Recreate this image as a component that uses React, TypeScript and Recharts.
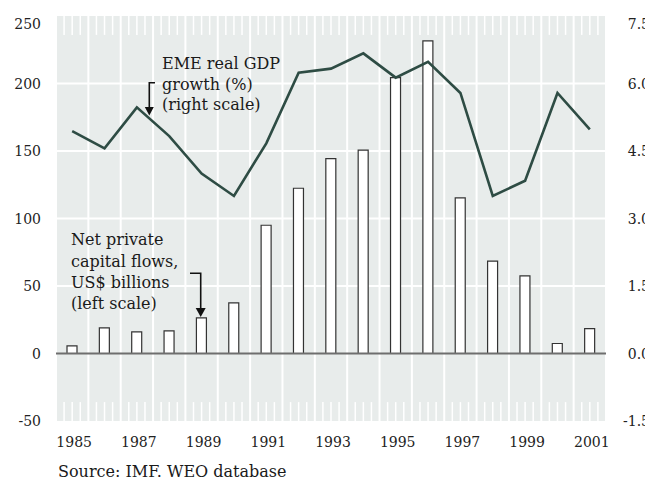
import React from 'react';
import {
  ComposedChart,
  Bar,
  Line,
  XAxis,
  YAxis,
  CartesianGrid,
  ReferenceLine,
} from 'recharts';

const years = [1985, 1986, 1987, 1988, 1989, 1990, 1991, 1992, 1993, 1994, 1995, 1996, 1997, 1998, 1999, 2000, 2001];
const flows = [5.6, 19, 16, 16.7, 26.4, 37.5, 95, 122.4, 144.4, 150.6, 204.4, 231.6, 115.3, 68.4, 57.5, 7.4, 18.5];
const gdp = [4.94, 4.56, 5.47, 4.83, 4.0, 3.5, 4.67, 6.24, 6.33, 6.67, 6.13, 6.48, 5.79, 3.5, 3.84, 5.79, 4.98];
const yearTicks = [1985, 1987, 1989, 1991, 1993, 1995, 1997, 1999, 2001];
const leftTicks = [-50, 0, 50, 100, 150, 200, 250];
const rightTicks = [-1.5, 0, 1.5, 3, 4.5, 6, 7.5];
const gridValues = [50, 100, 150, 200];

const data = years.map((year, i) => ({ year, flows: flows[i], gdp: gdp[i] }));
const boundaries = [years[0] - 0.5, ...years.map((y) => y + 0.5)];
const quarters = years.flatMap((y) => [y - 0.25, y, y + 0.25]);

const FONT = '"DejaVu Serif", serif';
const BG = '#e8eceb';
const LINE = '#2e4c44';

const makeYTick = (anchor: 'start' | 'end', topValue: number, fmt: (v: number) => string) => (props: any) => {
  const { x, y, payload } = props;
  const shift = payload.value === topValue ? 8 : 0;
  return (
    <text
      x={x}
      y={y + shift}
      dy="0.36em"
      textAnchor={anchor}
      fill="#222"
      fontSize={14}
      fontFamily={FONT}
    >
      {fmt(payload.value)}
    </text>
  );
};

const leftTick = makeYTick('end', 250, (v) => String(v));
const rightTick = makeYTick('end', 7.5, (v) => v.toFixed(1));

export default function App() {
  return (
    <div style={{ position: 'relative', width: 645, height: 477, fontFamily: FONT }}>
      <ComposedChart width={645} height={450} data={data} margin={{ top: 8, right: 0, bottom: 0, left: 0 }}>
        <CartesianGrid
          yAxisId="left"
          vertical={false}
          horizontalValues={gridValues}
          stroke="#ffffff"
          strokeWidth={2}
          fill={BG}
          fillOpacity={1}
        />
        <XAxis
          dataKey="year"
          type="number"
          domain={[years[0] - 0.5, years[years.length - 1] + 0.5]}
          ticks={yearTicks}
          interval={0}
          axisLine={false}
          tickLine={false}
          tickSize={0}
          tickMargin={16}
          height={37}
          tick={{ fill: '#222', fontSize: 14, fontFamily: FONT, dx: 2 }}
        />
        <YAxis
          yAxisId="left"
          orientation="left"
          domain={[-50, 250]}
          ticks={leftTicks}
          interval={0}
          axisLine={false}
          tickLine={false}
          tickSize={0}
          tickMargin={15}
          width={48}
          tick={leftTick}
        />
        <YAxis
          yAxisId="right"
          orientation="right"
          domain={[-1.5, 7.5]}
          ticks={rightTicks}
          interval={0}
          axisLine={false}
          tickLine={false}
          tickSize={0}
          tickMargin={44}
          width={47}
          tick={rightTick}
        />
        {boundaries.map((b) => (
          <ReferenceLine key={'b' + b} yAxisId="left" x={b} stroke="#ffffff" strokeWidth={2} ifOverflow="visible" />
        ))}
        {quarters.map((q) => (
          <ReferenceLine
            key={'qt' + q}
            yAxisId="left"
            segment={[{ x: q, y: 250 }, { x: q, y: 236 }]}
            stroke="#ffffff"
            strokeWidth={1.5}
          />
        ))}
        {quarters.map((q) => (
          <ReferenceLine
            key={'qb' + q}
            yAxisId="left"
            segment={[{ x: q, y: -50 }, { x: q, y: -36 }]}
            stroke="#ffffff"
            strokeWidth={1.5}
          />
        ))}
        <Bar
          yAxisId="left"
          dataKey="flows"
          barSize={10}
          fill="#ffffff"
          stroke="#333333"
          strokeWidth={1.2}
          isAnimationActive={false}
        />
        <ReferenceLine yAxisId="left" y={0} stroke="#6e6e6e" strokeWidth={2} />
        <Line
          yAxisId="right"
          dataKey="gdp"
          type="linear"
          stroke={LINE}
          strokeWidth={2.6}
          dot={false}
          activeDot={false}
          isAnimationActive={false}
        />
      </ComposedChart>
      <svg
        width={645}
        height={477}
        style={{ position: 'absolute', left: 0, top: 0, pointerEvents: 'none' }}
      >
        <g fontFamily={FONT} fontSize={16} fill="#1a1a1a">
          <text x={154} y={61}>EME real GDP</text>
          <text x={154} y={82}>growth (%)</text>
          <text x={154} y={102}>(right scale)</text>
          <text x={63} y={237}>Net private</text>
          <text x={63} y={259}>capital flows,</text>
          <text x={63} y={280}>US$ billions</text>
          <text x={63} y={301}>(left scale)</text>
          <text x={50} y={469}>Source: IMF. WEO database</text>
        </g>
        <g stroke="#111" strokeWidth={1.6} fill="none">
          <polyline points="147,74.7 141.3,74.7 141.3,100" />
          <polyline points="182,265.3 192.7,265.3 192.7,301" />
        </g>
        <g fill="#111">
          <polygon points="136.8,99 145.8,99 141.3,107.5" />
          <polygon points="187.7,300 197.7,300 192.7,309" />
        </g>
      </svg>
    </div>
  );
}
